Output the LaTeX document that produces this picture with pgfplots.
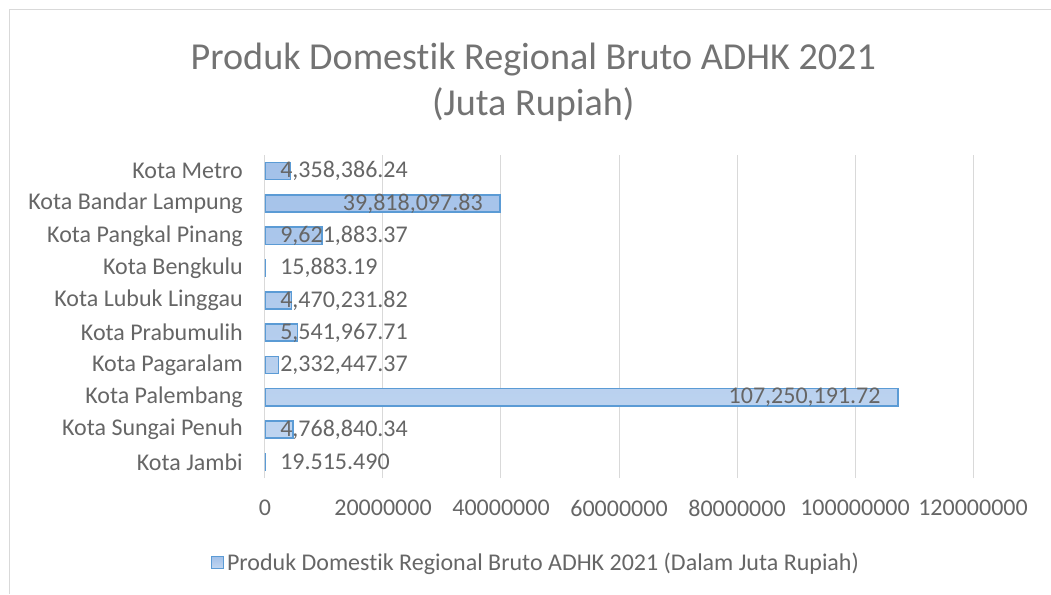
\documentclass[border=0pt]{standalone}
\usepackage{pgfplots}
\pgfplotsset{compat=1.18}
\usepackage{pgfplotstable}
\usepackage{fontspec}
\setmainfont{Carlito}[Ligatures={NoCommon}]
\definecolor{txt}{HTML}{666666}
\definecolor{ttl}{HTML}{737373}
\definecolor{grd}{HTML}{D9D9D9}
\definecolor{barline}{HTML}{5B9BD5}
\definecolor{bartop}{HTML}{A3C1E9}
\definecolor{barbot}{HTML}{C2D7F1}

\pgfplotstableread{
y val
0 19515.49
1 4768840.34
2 107250191.72
3 2332447.37
4 5541967.71
5 4470231.82
6 15883.19
7 9621883.37
8 39818097.83
9 4358386.24
}\bars

\pgfplotstableread{
x y lbl
0 0 19.515.490
0 1 4,768,840.34
0 3 2,332,447.37
0 4 5,541,967.71
0 5 4,470,231.82
0 6 15,883.19
0 7 9,621,883.37
0 9 4,358,386.24
}\baselabels

\pgfplotstableread{
x y lbl
107250191.72 2 107,250,191.72
39818097.83 8 39,818,097.83
}\endlabels

\begin{document}
\begin{tikzpicture}
\path[use as bounding box] (0pt,0pt) rectangle (788.25pt,-445.5pt);
\draw[grd, line width=0.75pt] (7.1pt,-445.5pt) -- (7.1pt,-7.1pt) -- (788.25pt,-7.1pt);
\node[text=ttl, font=\fontsize{28.6}{34.5}\selectfont, align=center] at (400pt,-61.5pt) {Produk Domestik Regional Bruto ADHK 2021\\(Juta Rupiah)};
\begin{axis}[
  at={(198.75pt,-358.5pt)}, anchor=south west,
  scale only axis, width=531pt, height=242.25pt,
  xmin=0, xmax=120000000, ymin=-0.5, ymax=9.5,
  axis line style={draw=none},
  major tick length=0pt,
  xmajorgrids, grid style={grd, line width=0.75pt},
  xtick={0,20000000,40000000,60000000,80000000,100000000,120000000},
  xticklabels={0,20000000,40000000,60000000,80000000,100000000,120000000},
  scaled x ticks=false,
  ytick={0,1,2,3,4,5,6,7,8,9},
  yticklabels={Kota Jambi,Kota Sungai Penuh,Kota Palembang,Kota Pagaralam,Kota Prabumulih,Kota Lubuk Linggau,Kota Bengkulu,Kota Pangkal Pinang,Kota Bandar Lampung,Kota Metro},
  tick label style={font=\fontsize{18}{22}\selectfont, text=txt},
  yticklabel style={inner sep=0pt, xshift=-16.5pt},
  xticklabel style={inner sep=0pt, yshift=-16.5pt},
  legend style={at={(0.3835,-0.263)}, anchor=center, draw=none, fill=none, font=\fontsize{18}{22}\selectfont, text=txt, inner sep=0pt},
  legend image code/.code={\draw[draw=barline, line width=0.75pt, fill=bartop!70!barbot] (0pt,-4.5pt) rectangle (9pt,4.5pt);},
]
\addplot[xbar, bar width=0.53, draw=barline, line width=1.1pt, top color=bartop, bottom color=barbot] table[x=val,y=y]{\bars};
\addlegendentry{Produk Domestik Regional Bruto ADHK 2021 (Dalam Juta Rupiah)}
\addplot[forget plot, draw=none, nodes near coords, point meta=explicit symbolic,
  nodes near coords align={anchor=west},
  every node near coord/.append style={anchor=west, xshift=11.25pt, font=\fontsize{18}{22}\selectfont, text=txt, inner sep=0pt}]
  table[x=x,y=y,meta=lbl]{\baselabels};
\addplot[forget plot, draw=none, nodes near coords, point meta=explicit symbolic,
  nodes near coords align={anchor=east},
  every node near coord/.append style={anchor=east, xshift=-12.75pt, font=\fontsize{18}{22}\selectfont, text=txt, inner sep=0pt}]
  table[x=x,y=y,meta=lbl]{\endlabels};
\end{axis}
\end{tikzpicture}
\end{document}
